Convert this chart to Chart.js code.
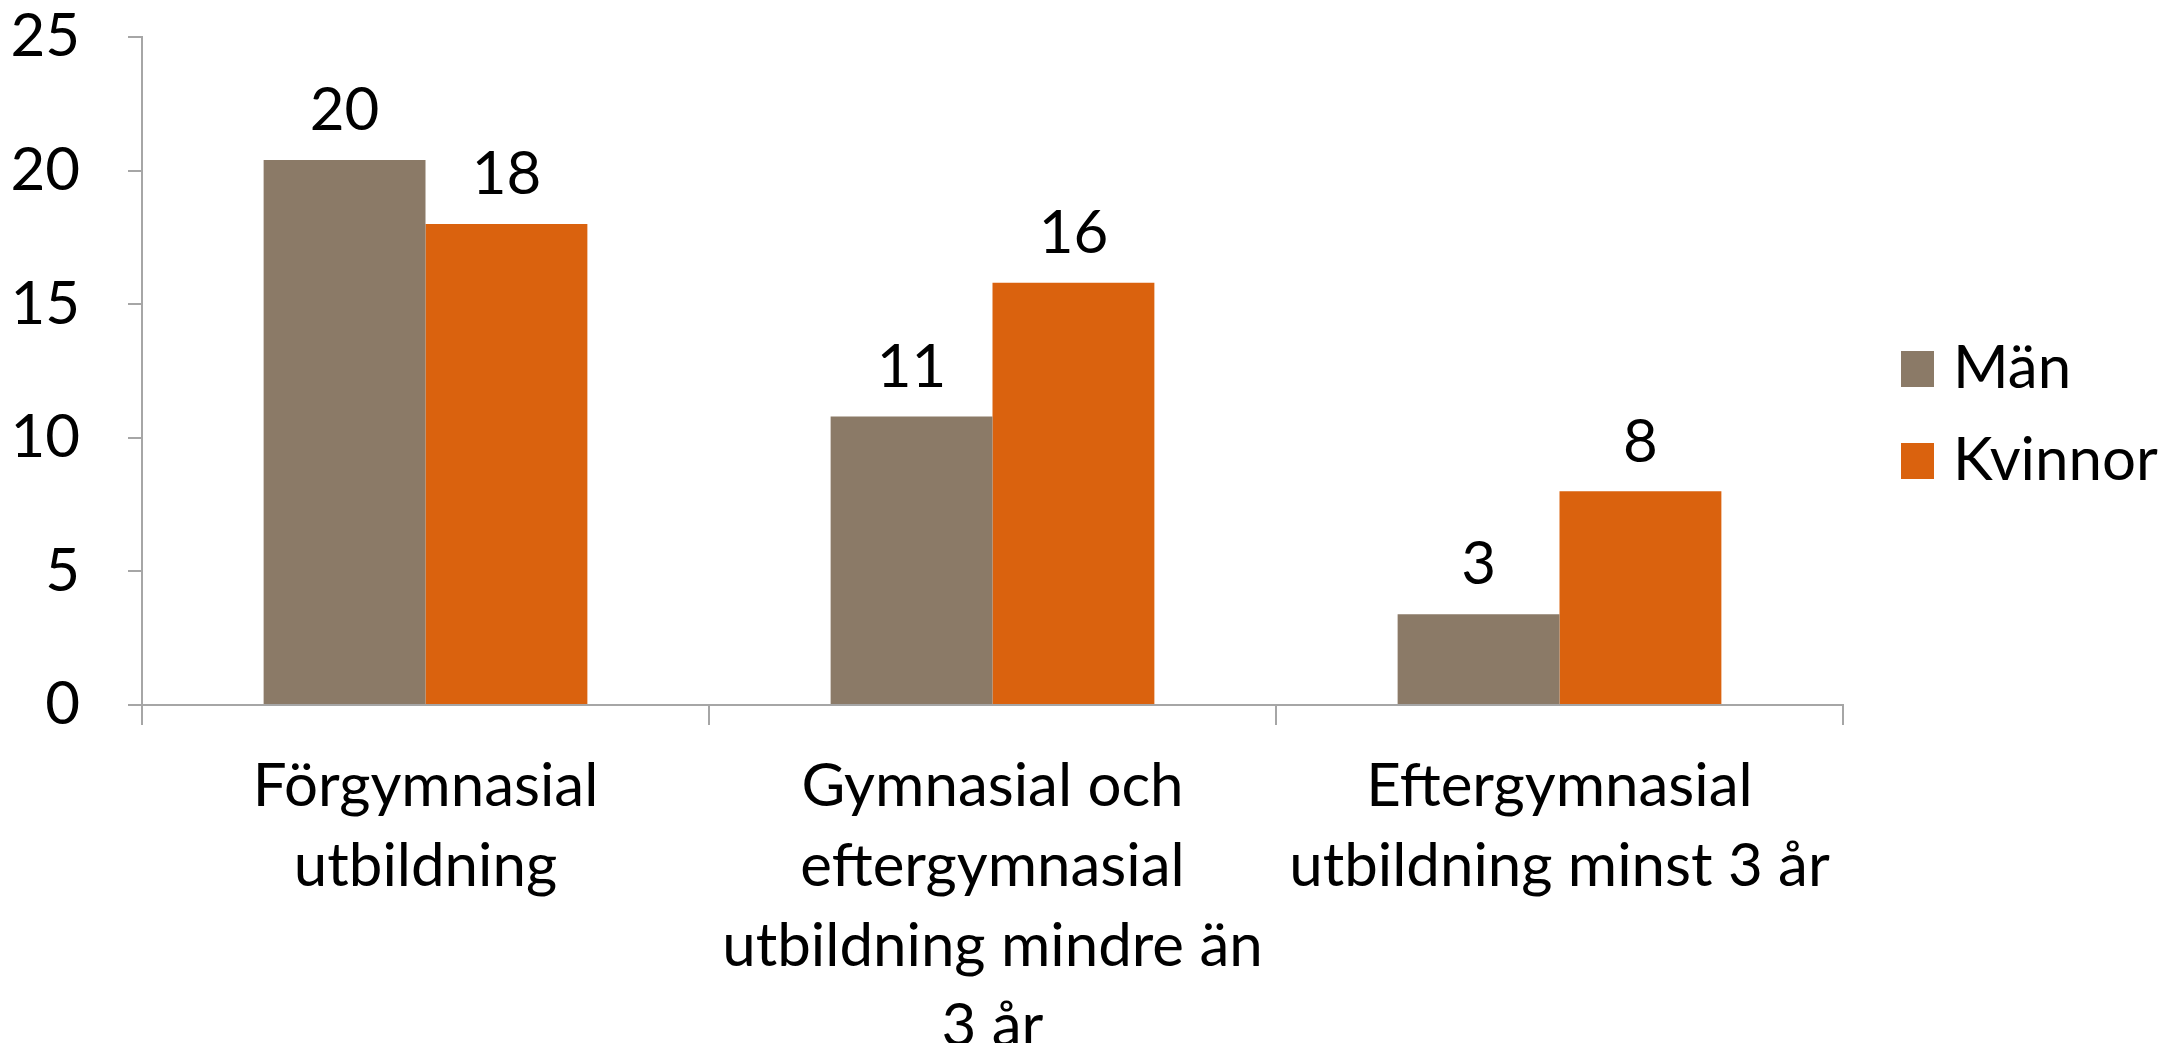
<!DOCTYPE html>
<html><head><meta charset="utf-8">
<script src="https://cdn.jsdelivr.net/npm/chart.js@4"></script>
<style>html,body{margin:0;padding:0;background:#fff}#wrap{width:2160px;height:1043px}</style>
</head><body><div id="wrap"><canvas id="c" width="2160" height="1043"></canvas></div>
<script>
const categories = [
  ["Förgymnasial", "utbildning"],
  ["Gymnasial och", "eftergymnasial", "utbildning mindre än", "3 år"],
  ["Eftergymnasial", "utbildning minst 3 år"]
];
const seriesNames = ["Män", "Kvinnor"];
const manValues = [20.4, 10.8, 3.4];
const kvinnorValues = [18.0, 15.8, 8.0];
const yTicks = [0, 5, 10, 15, 20, 25];

const FONT = "Lato, 'Open Sans', sans-serif";
const colors = ["#8B7A67", "#DA620E"];

const valueLabels = {
  id: 'valueLabels',
  afterDatasetsDraw(chart) {
    const ctx = chart.ctx;
    ctx.save();
    ctx.font = "60px " + FONT;
    ctx.fillStyle = "#000";
    ctx.textAlign = "center";
    ctx.textBaseline = "middle";
    chart.data.datasets.forEach((ds, i) => {
      chart.getDatasetMeta(i).data.forEach((el, j) => {
        ctx.fillText(String(Math.round(ds.data[j])), el.x, el.y - 49);
      });
    });
    ctx.restore();
  }
};

const sideLegend = {
  id: 'sideLegend',
  afterDraw(chart) {
    const ctx = chart.ctx;
    ctx.save();
    ctx.font = "60px " + FONT;
    ctx.textBaseline = "middle";
    ctx.textAlign = "left";
    const x0 = 1901, rowY = [369, 461];
    chart.data.datasets.forEach((ds, i) => {
      ctx.fillStyle = ds.backgroundColor;
      ctx.fillRect(x0, rowY[i] - 18, 33, 36);
      ctx.fillStyle = "#000";
      ctx.fillText(ds.label, x0 + 52, rowY[i]);
    });
    ctx.restore();
  }
};

new Chart(document.getElementById('c'), {
  type: 'bar',
  data: {
    labels: categories,
    datasets: [
      { label: seriesNames[0], data: manValues, backgroundColor: colors[0] },
      { label: seriesNames[1], data: kvinnorValues, backgroundColor: colors[1] }
    ]
  },
  options: {
    responsive: false,
    animation: false,
    devicePixelRatio: 1,
    layout: { padding: { top: 37, right: 317, left: 0, bottom: 0 } },
    datasets: { bar: { categoryPercentage: 0.571, barPercentage: 1.0 } },
    plugins: { legend: { display: false }, tooltip: { enabled: false } },
    scales: {
      x: {
        grid: { display: true, drawOnChartArea: false, drawTicks: true, tickLength: 20, color: "#a6a6a6", lineWidth: 2, offset: true },
        border: { color: "#a6a6a6", width: 2 },
        ticks: { color: "#000", font: { family: FONT, size: 60, lineHeight: 1.333 }, padding: 22, maxRotation: 0, autoSkip: false },
        afterFit(scale) { scale.height = 338; scale.paddingLeft = 0; scale.paddingRight = 0; scale.paddingTop = 0; scale.paddingBottom = 0; }
      },
      y: {
        min: 0, max: 25,
        afterBuildTicks(scale) { scale.ticks = yTicks.map(v => ({ value: v })); },
        grid: { display: true, drawOnChartArea: false, drawTicks: true, tickLength: 14, color: "#a6a6a6", lineWidth: 2 },
        border: { color: "#a6a6a6", width: 2 },
        ticks: { color: "#000", font: { family: FONT, size: 60 }, padding: 48 },
        afterFit(scale) { scale.width = 142; scale.paddingTop = 0; scale.paddingBottom = 0; }
      }
    }
  },
  plugins: [valueLabels, sideLegend]
});
</script></body></html>
